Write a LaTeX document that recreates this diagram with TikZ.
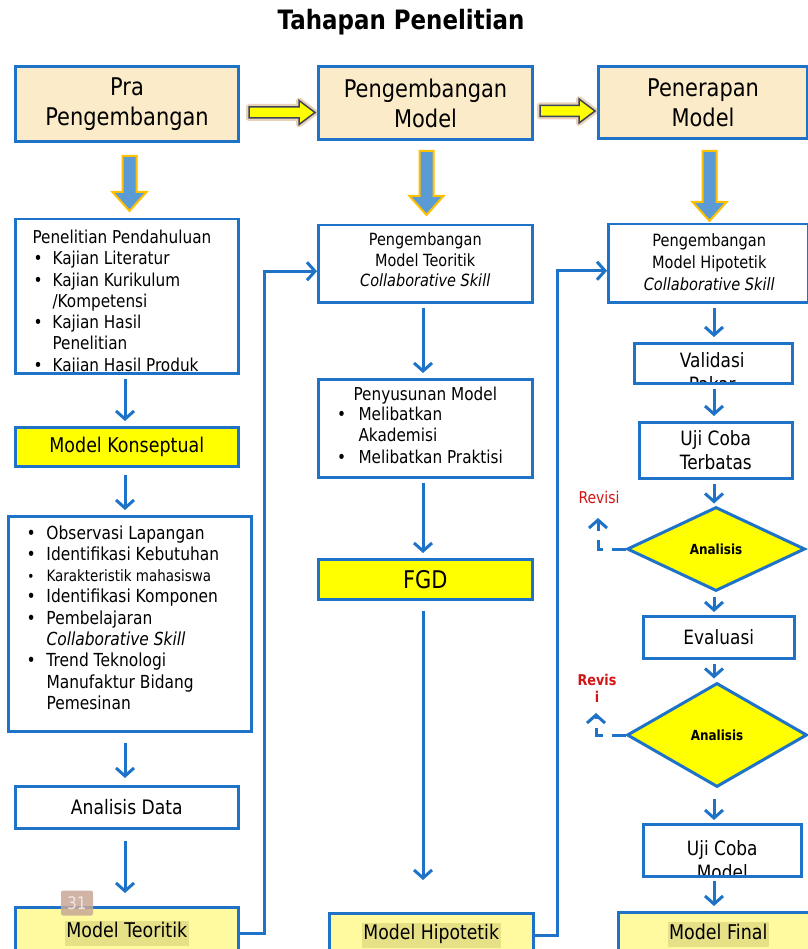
\documentclass[tikz,border=0pt]{standalone}
\usepackage{fontspec}
\setmainfont{DejaVu Sans}[FakeStretch=0.86]
\usetikzlibrary{shapes.geometric,arrows.meta,calc}
\definecolor{bl}{RGB}{30,115,200}
\definecolor{beige}{RGB}{252,235,200}
\definecolor{yel}{RGB}{255,255,0}
\definecolor{lyel}{RGB}{255,250,160}
\definecolor{hyel}{RGB}{230,224,135}
\definecolor{arrblue}{RGB}{91,155,213}
\definecolor{gold}{RGB}{255,192,0}
\definecolor{revc}{RGB}{210,20,20}
\definecolor{dk}{RGB}{60,70,90}
\definecolor{badgec}{RGB}{200,168,150}
\definecolor{badget}{RGB}{240,230,225}
\newcommand\fs[2]{\fontsize{\fpeval{#1*1.16}}{#2}\selectfont}
\newcommand\hl[1]{{\setlength\fboxsep{1.5pt}\colorbox{hyel}{\strut #1}}}
\tikzset{
  hdr/.style={draw=bl, line width=3pt, fill=beige, align=center, inner sep=0pt, anchor=north west, font=\fs{21}{30}},
  bx/.style={draw=bl, line width=2.5pt, fill=white, inner sep=0pt, anchor=north west, align=center},
  ybx/.style={bx, fill=yel},
  lbx/.style={bx, fill=lyel},
  inn/.style={inner sep=0pt, minimum width=0pt, minimum height=0pt},
  ptxt/.style n args={4}{path picture={\node[inn, anchor=north, align=center, font=#3] at ([shift={(#1,#2)}]path picture bounding box.north) {#4};}},
  conn/.style={draw=bl, line width=3pt, -{Straight Barb[length=8pt,width=18pt]}, shorten <=4pt, shorten >=5pt},
  dconn/.style={draw=bl, line width=3pt, dash pattern=on 14pt off 9pt, -{Straight Barb[length=8pt,width=18pt]}},
  dia/.style={diamond, draw=bl, line width=3pt, fill=yel, inner sep=0pt, font=\bfseries\fs{12}{14}},
  pics/harr/.style={code={
    \draw[brown, opacity=.35, line width=6pt, line join=round] (0,-5.5) -- ({#1-16},-5.5) -- ({#1-16},-12) -- (#1,0) -- ({#1-16},12) -- ({#1-16},5.5) -- (0,5.5) -- cycle;
    \draw[dk, line width=1.5pt, fill=yel] (0,-5.5) -- ({#1-16},-5.5) -- ({#1-16},-12) -- (#1,0) -- ({#1-16},12) -- ({#1-16},5.5) -- (0,5.5) -- cycle;}},
  pics/darr/.style={code={
    \draw[gold, line width=2pt, fill=arrblue] (-7,0) -- (7,0) -- (7,{#1-19}) -- (17,{#1-19}) -- (0,#1) -- (-17,{#1-19}) -- (-7,{#1-19}) -- cycle;}}
}
\begin{document}
\begin{tikzpicture}[x=1pt,y=-1pt]
\fill[white] (0,0) rectangle (807,949);
\useasboundingbox (0,0) rectangle (807,949);

\node[font=\bfseries\fs{23}{28}] (title) at (401,22) {Tahapan Penelitian};

% headers
\node[hdr, minimum width=223pt, minimum height=75pt] (pra) at (14,65) {Pra\\Pengembangan};
\node[hdr, minimum width=214pt, minimum height=73pt] (pm) at (317,65) {Pengembangan\\Model};
\node[hdr, minimum width=209pt, minimum height=72pt] (pn) at (597,65) {Penerapan\\Model};

\pic at ($(pra.east)+(9,8.5)$) {harr=66};
\pic at ($(pm.east)+(6,8)$) {harr=55};
\pic at ($(pra.south)+(2.5,13)$) {darr=55};
\pic at ($(pm.south)+(1,10)$) {darr=64};
\pic at ($(pn.south)+(6.5,11)$) {darr=70};

% left column
\node[bx, minimum width=223pt, minimum height=154pt, path picture={\node[inn, anchor=north west, font=\fs{15.3}{21.3}] at ([shift={(16pt,-8pt)}]path picture bounding box.north west) {\begin{tabular}{@{}p{20pt}@{}l@{}}
\multicolumn{2}{@{}l@{}}{Penelitian Pendahuluan}\\
\hspace{1pt}\textbullet & Kajian Literatur\\
\hspace{1pt}\textbullet & Kajian Kurikulum\\
 & /Kompetensi\\
\hspace{1pt}\textbullet & Kajian Hasil\\
 & Penelitian\\
\hspace{1pt}\textbullet & Kajian Hasil Produk
\end{tabular}};}] (pen) at (14,218) {};
\node[ybx, minimum width=223pt, minimum height=39pt, font=\fs{17.5}{21}] (mk) at (14,426) {Model Konseptual};
\node[bx, minimum width=243pt, minimum height=215pt, path picture={\node[inn, anchor=north west, font=\fs{15.5}{21.3}] at ([shift={(17pt,-6.6pt)}]path picture bounding box.north west) {\begin{tabular}{@{}p{20pt}@{}l@{}}
\textbullet & Observasi Lapangan\\
\textbullet & Identifikasi Kebutuhan\\
{\fs{12}{14}\hspace{1pt}\textbullet} & {\fs{13.5}{16}Karakteristik mahasiswa}\\
\textbullet & Identifikasi Komponen\\
\textbullet & Pembelajaran\\
 & \textit{Collaborative Skill}\\
\textbullet & Trend Teknologi\\
 & Manufaktur Bidang\\
 & Pemesinan
\end{tabular}};}] (obs) at (7,515) {};
\node[bx, minimum width=223pt, minimum height=42pt, font=\fs{17.2}{21}] (ad) at (14,785) {Analisis Data};
\node[lbx, minimum width=223pt, minimum height=52pt, font=\fs{17.5}{21}] (mt) at (14,906) {\hl{Model Teoritik}};
\node[fill=badgec, fill opacity=.85, text opacity=1, text=badget, rounded corners=2pt, font=\fs{15}{15}, minimum width=32pt, minimum height=25pt, inner sep=0pt] (badge) at (77,903) {31};

% middle column
\node[bx, minimum width=214pt, minimum height=77pt, ptxt={0pt}{-6.3pt}{\fs{14.5}{20.5}}{Pengembangan\\Model Teoritik\\\textit{Collaborative Skill}}] (pmt) at (317,224) {};
\node[bx, minimum width=214pt, minimum height=98pt, path picture={
  \node[inn, anchor=north, font=\fs{15.3}{21.5}] at ([shift={(0pt,-7pt)}]path picture bounding box.north) {Penyusunan Model};
  \node[inn, anchor=north west, font=\fs{15.3}{21.5}] at ([shift={(17.6pt,-24.5pt)}]path picture bounding box.north west) {\begin{tabular}{@{}p{21.4pt}@{}l@{}}
\textbullet & Melibatkan\\
 & Akademisi\\
\textbullet & Melibatkan Praktisi
\end{tabular}};}] (pys) at (317,378) {};
\node[ybx, minimum width=214pt, minimum height=40pt, font=\fs{21}{25}] (fgd) at (317,558) {FGD};
\node[lbx, minimum width=204pt, minimum height=44pt, font=\fs{17.3}{21}] (mh) at (328,912) {\hl{Model Hipotetik}};

% right column
\node[bx, minimum width=200pt, minimum height=78pt, ptxt={1pt}{-8.3pt}{\fs{14.6}{21.7}}{Pengembangan\\Model Hipotetik\\\textit{Collaborative Skill}}] (pmh) at (607,223) {};
\node[bx, minimum width=158pt, minimum height=40pt, ptxt={-1pt}{-8.2pt}{\fs{17}{24}}{Validasi\\Pakar}] (val) at (633,342) {};
\node[bx, minimum width=153pt, minimum height=56pt, font=\fs{17}{24}] (tbs) at (638,421) {Uji Coba\\Terbatas};
\node[dia, minimum width=178pt, minimum height=84pt] (d1) at (716,549) {Analisis};
\node[bx, minimum width=151pt, minimum height=42pt, font=\fs{17}{21}] (ev) at (642,615) {Evaluasi};
\node[dia, minimum width=180pt, minimum height=104pt] (d2) at (717,735) {Analisis};
\node[bx, minimum width=158pt, minimum height=52pt, ptxt={0pt}{-15pt}{\fs{17}{24.5}}{Uji Coba\\Model}] (ujm) at (642,823) {};
\node[lbx, minimum width=200pt, minimum height=45pt, font=\fs{17.5}{21}] (mf) at (617,911) {\hl{Model Final}};

\node[text=revc, font=\fs{14}{16}] (rev1) at (599,497) {Revisi};
\node[text=revc, font=\bfseries\fs{12.8}{17}, align=center] (rev2) at (597,688) {Revis\\i};
\coordinate (r1tip) at (598,518);
\coordinate (r2tip) at (596,713);
\coordinate (lc) at (125,0);
\coordinate (mc) at (423,0);
\coordinate (rc) at (714,0);

% connectors
\draw[conn] (pen.south -| lc) -- (mk.north -| lc);
\draw[conn, shorten <=7pt] (mk.south -| lc) -- (obs.north -| lc);
\draw[conn, shorten <=10pt, shorten >=7pt] (obs.south -| lc) -- (ad.north -| lc);
\draw[conn, shorten <=11pt, shorten >=13pt] (ad.south -| lc) -- (mt.north -| lc);
\draw[conn] (pmt.south -| mc) -- (pys.north -| mc);
\draw[conn] (pys.south -| mc) -- (fgd.north -| mc);
\draw[conn, shorten <=10pt, shorten >=32pt] (fgd.south -| mc) -- (mh.north -| mc);
\draw[conn, shorten <=0pt, shorten >=0pt] (mt.east) -- ++(25,0) |- ([yshift=-7.5pt]pmt.west);
\draw[conn, shorten <=0pt, shorten >=0pt] (mh.east) -- ++(23,0) |- ([yshift=-7.5pt]pmh.west);
\draw[conn] (pmh.south -| rc) -- (val.north -| rc);
\draw[conn] (val.south -| rc) -- (tbs.north -| rc);
\draw[conn, shorten >=2pt] (tbs.south -| rc) -- (d1.north -| rc);
\draw[conn, shorten >=3pt] (d1.south -| rc) -- (ev.north -| rc);
\draw[conn, shorten >=3pt] (ev.south -| rc) -- (d2.north -| rc);
\draw[conn, shorten <=10pt, shorten >=3pt] (d2.south -| rc) -- (ujm.north -| rc);
\draw[conn, shorten <=3pt, shorten >=5pt] (ujm.south -| rc) -- (mf.north -| rc);
\draw[dconn] (d1.west) -| (r1tip);
\draw[dconn] (d2.west) -| (r2tip);
\end{tikzpicture}
\end{document}
